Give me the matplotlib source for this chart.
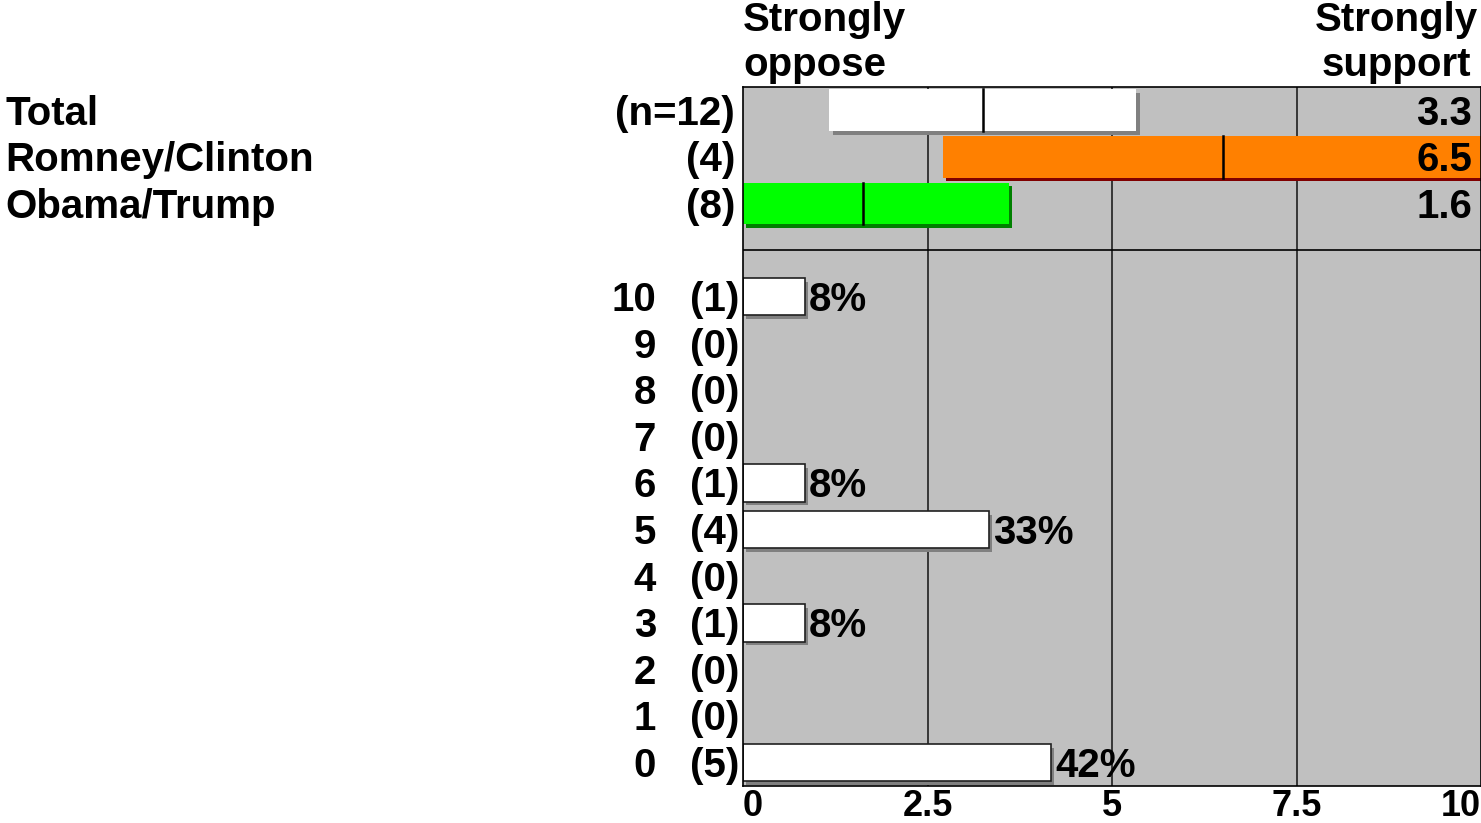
import matplotlib.pyplot as plt
import matplotlib.patheffects as pe
import matplotlib.transforms as mtransforms
import numpy as np

plt.rcParams['font.family'] = ['Liberation Sans', 'DejaVu Sans']
plt.rcParams['font.weight'] = 'bold'

# group summaries (mean with interval bar)
groups = ["Total", "Romney/Clinton", "Obama/Trump"]
group_n = ["(n=12)", "(4)", "(8)"]
group_mean = [3.25, 6.5, 1.625]
group_low = [1.17, 2.71, -0.4]
group_high = [5.33, 10.3, 3.6]
group_face = ["#FFFFFF", "#FF8000", "#00FF00"]
group_shadow = ["#808080", "#800000", "#008000"]

# score distribution
scores = [10, 9, 8, 7, 6, 5, 4, 3, 2, 1, 0]
counts = [1, 0, 0, 0, 1, 4, 0, 1, 0, 0, 5]
n_total = 12
xticks = [0, 2.5, 5, 7.5, 10]
xticklabels = ["0", "2.5", "5", "7.5", "10"]

W, H = 1481, 823
fig = plt.figure(figsize=(W / 100, H / 100), dpi=100)
ax = fig.add_axes([743 / W, 1 - 786 / H, (W - 743) / W, (786 - 87) / H])
ax.set_facecolor("#C0C0C0")
ax.set_xlim(0, 10)
ax.set_ylim(14.5, -0.5)
ax.set_yticks([])
for s in ax.spines.values():
    s.set_color("black")
    s.set_linewidth(1.2)

for xv in [2.5, 5, 7.5]:
    ax.axvline(xv, color="#202020", lw=1.2, zorder=1)
ax.axhline(3, color="black", lw=1.2, zorder=1)

fs = 29
dy = 0.07  # nudge text down slightly to sit on the row centre
left_tr = mtransforms.blended_transform_factory(fig.transFigure, ax.transData)

# top group bars
for i in range(len(groups)):
    lo = max(group_low[i], 0)
    hi = group_high[i]
    b = ax.barh(i, hi - lo, left=lo, height=0.9, color=group_face[i],
                linewidth=0, zorder=2)
    for p in b:
        p.set_path_effects([pe.SimplePatchShadow(offset=(2.5, -2.5), shadow_rgbFace=group_shadow[i], alpha=1.0),
                            pe.Normal()])
    ax.plot([group_mean[i], group_mean[i]], [i - 0.45, i + 0.45], color="black", lw=1.8, zorder=3)
    mean_txt = "%.1f" % (np.floor(group_mean[i] * 10 + 0.5) / 10)
    ax.text(9.88, i + dy, mean_txt, ha="right", va="center", fontsize=fs, zorder=4)
    ax.text(5 / W, i + dy, groups[i], transform=left_tr, ha="left", va="center", fontsize=fs)
    ax.text(735 / W, i + dy, group_n[i], transform=left_tr, ha="right", va="center", fontsize=fs)

# distribution bars
for j, (sc, c) in enumerate(zip(scores, counts)):
    y = j + 4
    ax.text(656 / W, y + dy, str(sc), transform=left_tr, ha="right", va="center", fontsize=fs)
    ax.text(739 / W, y + dy, "(%d)" % c, transform=left_tr, ha="right", va="center", fontsize=fs)
    if c == 0:
        continue
    pct = c / n_total * 100
    b = ax.barh(y, pct / 10, left=0, height=0.8, color="white", edgecolor="#202020",
                linewidth=1.2, zorder=2)
    for p in b:
        p.set_path_effects([pe.SimplePatchShadow(offset=(2.5, -2.5), shadow_rgbFace="#808080", alpha=1.0),
                            pe.Normal()])
    ax.text(pct / 10 + 0.06, y + dy, "%d%%" % round(pct), ha="left", va="center", fontsize=fs, zorder=4)

ax.set_xticks(xticks)
ax.set_xticklabels(xticklabels, fontsize=26, fontweight="bold")
ax.tick_params(axis="x", length=0, pad=2)
labs = ax.get_xticklabels()
labs[0].set_horizontalalignment("left")
labs[-1].set_horizontalalignment("right")

fig.text(743 / W, 1 - 1 / H, "Strongly\noppose", ha="left", va="top", fontsize=fs, linespacing=1.25)
fig.text(1478 / W, 1 - 1 / H, "Strongly\nsupport", ha="right", va="top", fontsize=fs,
         linespacing=1.25, multialignment="center")

fig.savefig("out.png", dpi=100)
